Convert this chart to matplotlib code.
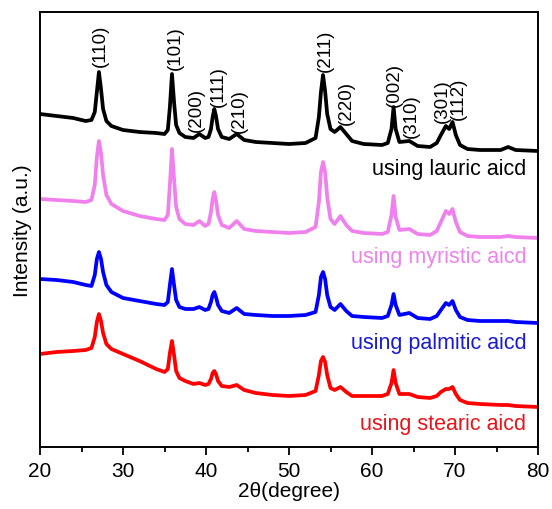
import matplotlib
matplotlib.use("Agg")
import matplotlib.pyplot as plt
from matplotlib.ticker import MultipleLocator

plt.rcParams['font.family'] = ['Liberation Sans', 'DejaVu Sans']

two_theta = [20, 22, 24, 25.5, 26.2, 26.6, 26.85, 27.1, 27.35, 27.6, 28.0, 28.6,
             30, 32, 34, 35.0, 35.4, 35.65, 35.9, 36.15, 36.4, 36.8, 37.5, 38.5,
             39.2, 39.9, 40.3, 40.6, 40.8, 41.0, 41.2, 41.45, 41.9, 42.8, 43.7, 44.6,
             46, 48, 50, 52, 53.2, 53.6, 53.85, 54.1, 54.35, 54.6, 55.0, 55.5,
             56.2, 56.9, 57.6, 59, 61.2, 61.9, 62.35, 62.6, 62.85, 63.3, 64.5, 65.5,
             67, 67.8, 68.3, 68.9, 69.3, 69.7, 70.1, 70.6, 71.5, 73, 75.5, 76.4, 77.3, 80]

lauric = [333, 331, 329, 326, 327, 335, 355, 375, 358, 338, 326, 321,
          317, 315, 314, 313, 317, 340, 373, 345, 322, 314, 310, 309,
          313, 309, 310, 318, 330, 338, 331, 318, 310, 308, 313, 307,
          305, 304, 303, 304, 309, 330, 355, 372, 356, 333, 318, 315,
          320, 313, 306, 303, 302, 304, 318, 340, 318, 305, 306, 301,
          300, 304, 312, 321, 318, 325, 312, 302, 298, 297, 297, 300, 297, 296]

myristic = [248, 247, 246, 245, 247, 262, 290, 306, 294, 272, 252, 243,
            236, 231, 228, 227, 232, 262, 298, 268, 240, 228, 223, 222,
            226, 221, 223, 235, 248, 255, 247, 232, 222, 219, 226, 218,
            216, 215, 214, 215, 220, 245, 275, 285, 275, 250, 228, 223,
            231, 222, 216, 214, 213, 215, 232, 251, 230, 217, 218, 213,
            212, 216, 225, 236, 233, 238, 225, 215, 211, 210, 210, 211, 210, 209]

palmitic = [168, 167, 165, 162, 161, 172, 188, 195, 188, 175, 162, 155,
            149, 146, 143, 142, 145, 162, 178, 162, 147, 140, 138, 138,
            140, 137, 138, 145, 152, 155, 150, 142, 136, 134, 139, 133,
            132, 131, 131, 132, 135, 152, 170, 175, 168, 152, 140, 137,
            143, 136, 131, 130, 129, 131, 142, 153, 142, 132, 134, 129,
            128, 131, 137, 144, 142, 146, 137, 130, 127, 126, 126, 126, 125, 124]

stearic = [93, 95, 96, 97, 99, 110, 125, 133, 126, 114, 103, 98,
           93, 86, 78, 75, 78, 94, 106, 92, 76, 69, 66, 63,
           64, 62, 63, 68, 74, 76, 73, 66, 61, 60, 62, 57,
           54, 52, 51, 52, 56, 72, 86, 90, 85, 72, 59, 57,
           60, 55, 51, 51, 51, 53, 64, 77, 64, 53, 53, 50,
           49, 51, 55, 58, 58, 60, 53, 47, 44, 43, 42, 42, 41, 40]

series_names = ['using lauric aicd', 'using myristic aicd', 'using palmitic aicd', 'using stearic aicd']
series_values = [lauric, myristic, palmitic, stearic]
series_colors = ['#000000', '#F080EE', '#0000FF', '#FF0000']
name_colors = ['#000000', '#EE82EE', '#1A1AD0', '#E8141A']
name_y = [278, 190, 105, 23]

peak_labels = ['(110)', '(101)', '(200)', '(111)', '(210)', '(211)', '(220)', '(002)', '(310)', '(301)', '(112)']
peak_x = [27.23, 36.27, 38.8, 41.45, 43.98, 54.34, 56.87, 62.65, 64.7, 68.43, 70.36]
peak_y = [381, 378, 316, 341, 315, 376, 323, 341, 310, 325, 328]

fig = plt.figure(figsize=(5.52, 5.10), dpi=100)
ax = fig.add_axes([40/552, 62/510, 498/552, 435/510])

for vals, col in zip(series_values, series_colors):
    ax.plot(two_theta, vals, color=col, lw=2.7, solid_joinstyle='round')

for name, col, y in zip(series_names, name_colors, name_y):
    ax.text(78.6, y, name, color=col, fontsize=15.5, ha='right', va='center')

for lab, x, y in zip(peak_labels, peak_x, peak_y):
    ax.text(x, y, lab, rotation=90, fontsize=13.5, ha='center', va='bottom', color='black')

ax.set_xlim(20, 80)
ax.set_ylim(0, 435)
ax.xaxis.set_major_locator(MultipleLocator(10))
ax.xaxis.set_minor_locator(MultipleLocator(5))
ax.tick_params(axis='x', which='major', direction='out', length=6, width=1.3, labelsize=15, pad=4)
ax.tick_params(axis='x', which='minor', direction='out', length=3.5, width=1.3)
ax.set_yticks([])
for sp in ax.spines.values():
    sp.set_linewidth(1.4)

ax.set_xlabel('2θ(degree)', fontsize=15, labelpad=1)
ax.set_ylabel('Intensity (a.u.)', fontsize=15, labelpad=6)

fig.savefig('out.png', dpi=100)
